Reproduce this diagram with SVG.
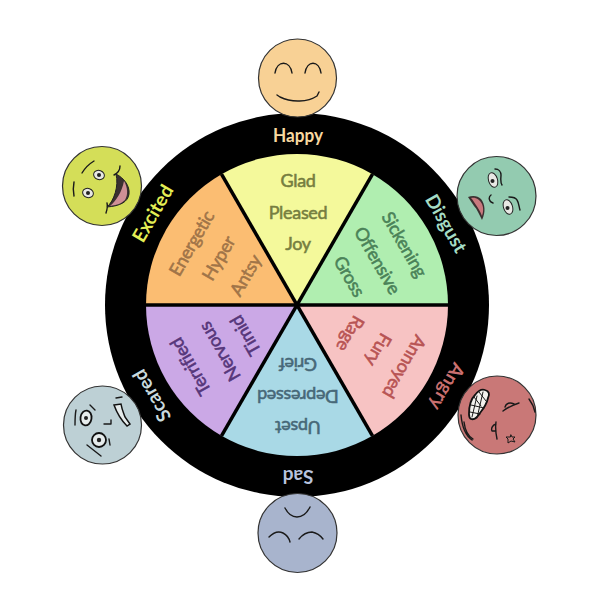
<svg xmlns="http://www.w3.org/2000/svg" width="597" height="600" viewBox="0 0 597 600">
<style>
text{font-family:"Lato","Open Sans",sans-serif;text-anchor:middle;dominant-baseline:central}
.w{font-size:18px;letter-spacing:-.3px;stroke-width:.55px}
.r{font-size:19px;font-weight:700}
.face{stroke:#333;stroke-width:1.2}
.l{fill:none;stroke:#1a1a1a;stroke-width:1.4;stroke-linecap:round;stroke-linejoin:round}
.eye{fill:#e8e8e4;stroke:#222;stroke-width:1}
.p{fill:#222}
.sep{stroke:#000;stroke-width:3.5}
</style>
<circle id="ring" cx="297" cy="305" r="192" fill="#000"/>
<g id="excited-sector">
<path d="M297 305L146 305A151 151 0 0 1 221.500 174.200Z" fill="#fbbd72"/>
<g fill="#a07448" stroke="#a07448" class="w">
<text transform="rotate(-60 191 243)" x="191" y="243">Energetic</text>
<text transform="rotate(-60 218 258)" x="218" y="258">Hyper</text>
<text transform="rotate(-60 245 275)" x="245" y="275">Antsy</text>
</g>
</g>
<g id="happy-sector">
<path d="M297 305L221.500 174.200A151 151 0 0 1 372.500 174.200Z" fill="#f4f99b"/>
<g fill="#767e40" stroke="#767e40" class="w">
<text x="298" y="180">Glad</text>
<text x="298" y="212">Pleased</text>
<text x="298" y="243">Joy</text>
</g>
</g>
<g id="disgust-sector">
<path d="M297 305L372.500 174.200A151 151 0 0 1 448 305Z" fill="#b0eeb0"/>
<g fill="#4a8258" stroke="#4a8258" class="w">
<text transform="rotate(60 405 244)" x="405" y="244">Sickening</text>
<text transform="rotate(60 378 260)" x="378" y="260">Offensive</text>
<text transform="rotate(60 350 276)" x="350" y="276">Gross</text>
</g>
</g>
<g id="angry-sector">
<path d="M297 305L448 305A151 151 0 0 1 372.500 435.800Z" fill="#f7c3c3"/>
<g fill="#b85454" stroke="#b85454" class="w">
<text transform="rotate(120 405 367)" x="405" y="367">Annoyed</text>
<text transform="rotate(120 379 350)" x="379" y="350">Fury</text>
<text transform="rotate(120 351 334)" x="351" y="334">Rage</text>
</g>
</g>
<g id="sad-sector">
<path d="M297 305L372.500 435.800A151 151 0 0 1 221.500 435.800Z" fill="#a9d9e6"/>
<g fill="#476878" stroke="#476878" class="w">
<text transform="rotate(180 298 428)" x="298" y="428">Upset</text>
<text transform="rotate(180 298 397)" x="298" y="397">Depressed</text>
<text transform="rotate(180 298 365)" x="298" y="365">Grief</text>
</g>
</g>
<g id="scared-sector">
<path d="M297 305L221.500 435.800A151 151 0 0 1 146 305Z" fill="#cba8e6"/>
<g fill="#56367a" stroke="#56367a" class="w">
<text transform="rotate(-120 190 367)" x="190" y="367">Terrified</text>
<text transform="rotate(-120 219 352)" x="219" y="352">Nervous</text>
<text transform="rotate(-120 245 336)" x="245" y="336">Timid</text>
</g>
</g>
<g id="dividers" class="sep">
<line x1="146" y1="305" x2="448" y2="305"/>
<line x1="221.500" y1="174.200" x2="372.500" y2="435.800"/>
<line x1="372.500" y1="174.200" x2="221.500" y2="435.800"/>
</g>
<g id="ring-labels" class="r">
<text x="298" y="134" fill="#f7d9a0" textLength="50" lengthAdjust="spacingAndGlyphs">Happy</text>
<text transform="rotate(60 447 223)" x="447" y="223" fill="#a5dcc5">Disgust</text>
<text transform="rotate(120 448 387)" x="448" y="387" fill="#c96f6f">Angry</text>
<text transform="rotate(180 298 477)" x="298" y="477" fill="#b7c3dd">Sad</text>
<text transform="rotate(-120 151 396)" x="151" y="396" fill="#c9dade">Scared</text>
<text transform="rotate(-60 152 213)" x="152" y="213" fill="#e4ee55">Excited</text>
</g>
<g id="face-happy">
<circle class="face" cx="297.500" cy="78" r="39" fill="#f8d195"/>
<path class="l" d="M275 73C277 60 290 60 292 73M305 73C307 60 319 60 321 73"/>
<path class="l" d="M277 95L280 97C292 103 308 102 317 96L319 92"/>
</g>
<g id="face-excited">
<circle class="face" cx="102" cy="186" r="39.500" fill="#d4de58"/>
<path class="l" d="M82 173C85 168 89 164 94 161M74 182C73 187 73 191 74 196M120 166C120 170 118 173 114 175M107 203C108 207 107 210 106 213"/>
<ellipse class="eye" cx="99" cy="175" rx="5.500" ry="4.500" transform="rotate(20 99 175)"/>
<circle class="p" cx="99" cy="175" r="2"/>
<ellipse class="eye" cx="88" cy="193" rx="5.500" ry="4.500" transform="rotate(20 88 193)"/>
<circle class="p" cx="88" cy="193" r="2"/>
<path d="M116 174C124 178 130 186 129 194C128 202 120 206 107 207C114 201 119 186 116 174Z" fill="#3b3030" stroke="#222"/>
<path d="M124 181C128 188 128 195 125 200C121 204 116 205 110 206C116 201 122 192 124 181Z" fill="#cf8f96"/>
</g>
<g id="face-disgust">
<circle class="face" cx="496.500" cy="196" r="39.500" fill="#93cbb0"/>
<path class="l" d="M495 169C499 169 501 172 501 175C501 178 500 182 502 185M509 197C513 197 516 198 517 200C519 203 519 207 520 210M491 195C488 197 489 202 493 203"/>
<ellipse class="eye" cx="493" cy="180" rx="4.500" ry="7.500" transform="rotate(-18 493 180)"/>
<circle class="p" cx="492.500" cy="181" r="2"/>
<ellipse class="eye" cx="508" cy="207" rx="4.500" ry="7.500" transform="rotate(-18 508 207)"/>
<circle class="p" cx="507.500" cy="208" r="2"/>
<path d="M468 197C473 195 478 196 481 199C485 204 486 212 482 220C479 214 477 209 474 206C472 203 470 200 468 197Z" fill="#3b3030"/>
<path d="M471 198C476 197 480 200 482 204C484 209 483 213 482 216C480 211 478 208 476 205C474 202 473 200 471 198Z" fill="#c8797e"/>
</g>
<g id="face-angry">
<circle class="face" cx="497" cy="415" r="39" fill="#c97877"/>
<path d="M469 414C469 405 472 398 475 395C478 391 482 389 485 390C489 391 490 394 488 398C487 403 484 408 480 413C477 418 474 420 471 419C469 418 469 416 469 414Z" fill="#f2f2ee" stroke="#111" stroke-width="1.800"/>
<path class="l" d="M474 397L481 406M479 392L486 401M471 405L484 408M470 412L480 414M477 396L472 417M483 392L477 418" style="stroke-width:1"/>
<path class="l" d="M503 411C508 407 513 405 519 403M505 407C506 403 510 402 514 404M496 422C495 428 496 434 497 439M496 424C492 425 491 429 492 431L496 431"/>
<path class="l" style="stroke-width:1" d="M511 435L512 437L515 437L513 439L515 442L511 441L508 443L508 439L506 437L510 437Z"/>
<path class="l" d="M461 415C462 426 466 436 472 440M464 422C465 430 468 436 473 439M529 399C532 403 534 407 535 412"/>
</g>
<g id="face-sad">
<circle class="face" cx="297.500" cy="533" r="39.500" fill="#a8b4cd"/>
<path class="l" d="M285 508C288 514 292 517 297 517C302 517 307 513 310 507"/>
<path class="l" d="M269 537C274 532 279 531 283 533C287 535 289 538 290 542M299 539C303 534 308 532 312 532C317 533 320 535 323 539"/>
</g>
<g id="face-scared">
<circle class="face" cx="102.500" cy="425" r="39" fill="#bdd0d5"/>
<path class="l" d="M76 410C75 415 75 420 75 425M90 405L95 410M104 424L111 424L111 420M87 445L101 456M109 439L110 445M116 398L122 397"/>
<ellipse cx="86" cy="418" rx="5.500" ry="7.500" fill="#e6ecec" stroke="#111" stroke-width="1.800" transform="rotate(8 86 418)"/>
<circle class="p" cx="86" cy="418" r="2"/>
<ellipse cx="99" cy="440" rx="7" ry="7" fill="#e6ecec" stroke="#111" stroke-width="1.800"/>
<circle class="p" cx="99" cy="440" r="2.200"/>
<path d="M114 405L121 404C122 410 124 414 125 417L130 424L127 426C123 422 118 416 114 405Z" fill="#e6ecec" stroke="#111" stroke-width="1.500"/>
</g>
</svg>
